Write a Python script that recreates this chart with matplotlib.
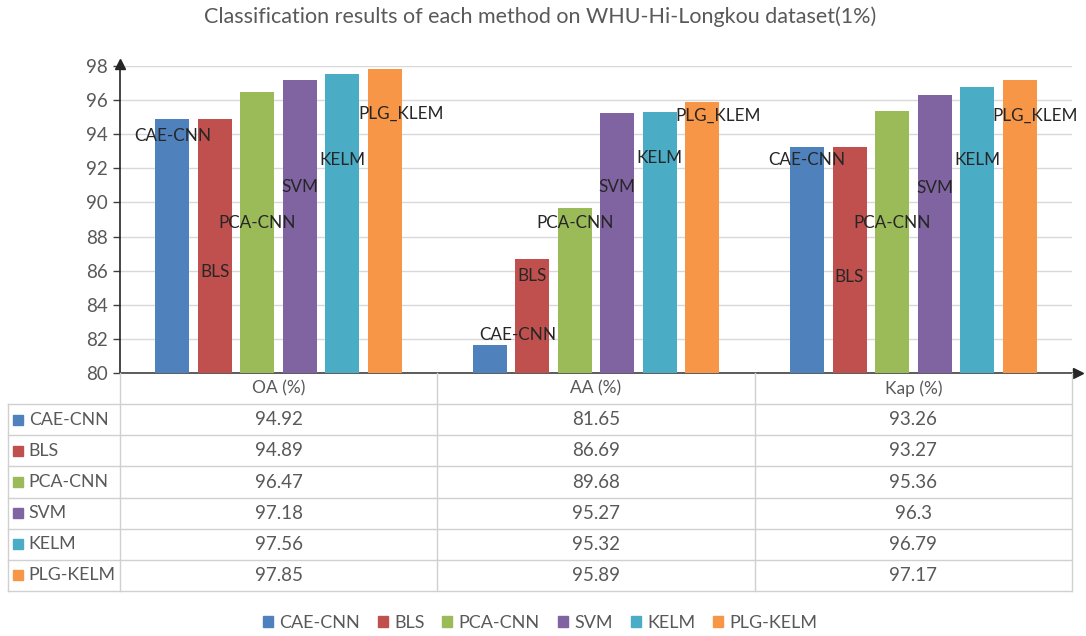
import matplotlib
matplotlib.use("Agg")
from matplotlib import pyplot as plt

plt.rcParams['font.family'] = ['Lato', 'DejaVu Sans']

categories = ["OA (%)", "AA (%)", "Kap (%)"]
methods = ["CAE-CNN", "BLS", "PCA-CNN", "SVM", "KELM", "PLG-KELM"]
bar_labels = ["CAE-CNN", "BLS", "PCA-CNN", "SVM", "KELM", "PLG_KLEM"]
cae_cnn = [94.92, 81.65, 93.26]
bls = [94.89, 86.69, 93.27]
pca_cnn = [96.47, 89.68, 95.36]
svm = [97.18, 95.27, 96.3]
kelm = [97.56, 95.32, 96.79]
plg_kelm = [97.85, 95.89, 97.17]
table_text = [["94.92", "81.65", "93.26"],
              ["94.89", "86.69", "93.27"],
              ["96.47", "89.68", "95.36"],
              ["97.18", "95.27", "96.3"],
              ["97.56", "95.32", "96.79"],
              ["97.85", "95.89", "97.17"]]
series = [cae_cnn, bls, pca_cnn, svm, kelm, plg_kelm]
colors = ['#4F81BD', '#C0504D', '#9BBB59', '#8064A2', '#4BACC6', '#F79646']

# where excel dropped the series-name labels (data units)
label_y = [[93.9, 82.2, 92.5],
           [85.9, 85.7, 85.6],
           [88.8, 88.8, 88.8],
           [90.9, 90.9, 90.85],
           [92.5, 92.6, 92.5],
           [95.2, 95.1, 95.1]]
label_dx = [[0, 0.09, 0], [0] * 3, [0] * 3, [0] * 3, [0] * 3, [0.05] * 3]

W, H = 1086, 636
fig = plt.figure(figsize=(W / 100, H / 100), dpi=100)

x0, x1 = 120, 1072
y_top, y_bot = 66, 373
ax = fig.add_axes([x0 / W, 1 - y_bot / H, (x1 - x0) / W, (y_bot - y_top) / H])

pitch = 0.134
width = 0.107
for i, vals in enumerate(series):
    xs = [c + (i - 2.5) * pitch for c in range(len(categories))]
    ax.bar(xs, [v - 80 for v in vals], width, bottom=80, color=colors[i],
           zorder=3)
    for j, x in enumerate(xs):
        ax.text(x + label_dx[i][j], label_y[i][j], bar_labels[i],
                ha='center', va='center', fontsize=12.3, color='#262626',
                zorder=4)

ax.set_xlim(-0.5, 2.5)
ax.set_ylim(80, 98)
ax.set_yticks(range(80, 99, 2))
ax.set_xticks([])
ax.tick_params(axis='y', labelsize=13.5, color='#404040', labelcolor='#595959',
               length=5, width=1, direction='out', pad=4)
ax.grid(axis='y', color='#D9D9D9', linewidth=1, zorder=0)
ax.spines['top'].set_visible(False)
ax.spines['right'].set_visible(False)
ax.spines['left'].set_color('#262626')
ax.spines['bottom'].set_color('#404040')
ax.spines['left'].set_linewidth(1.2)
ax.spines['bottom'].set_linewidth(1.2)
# arrow heads on both axes
ax.plot(0, 1.005, marker='^', color='#262626', markersize=7,
        transform=ax.transAxes, clip_on=False, zorder=5)
ax.plot(1.006, 0, marker='>', color='#262626', markersize=7,
        transform=ax.transAxes, clip_on=False, zorder=5)

fig.text(540 / W, 1 - 17 / H,
         "Classification results of each method on WHU-Hi-Longkou dataset(1%)",
         ha='center', va='center', fontsize=15.5, color='#595959')

# data table below the chart
t_left, t_bot = 8, 591
lab_w = (x0 - t_left) / ((x1 - x0) / 3)
tax = fig.add_axes([t_left / W, 1 - t_bot / H, (x1 - t_left) / W,
                    (t_bot - y_bot) / H])
tax.set_xlim(-0.5 - lab_w, 2.5)
n_rows = len(methods) + 1
tax.set_ylim(n_rows, 0)
tax.axis('off')
grid_c = '#D0D0D0'
for r in range(1, n_rows + 1):
    tax.plot([-0.5 - lab_w, 2.5], [r, r], color=grid_c, lw=1, clip_on=False)
for b in [-0.5, 0.5, 1.5, 2.5]:
    tax.plot([b, b], [0, n_rows], color=grid_c, lw=1, clip_on=False)
tax.plot([-0.5 - lab_w] * 2, [1, n_rows], color=grid_c, lw=1, clip_on=False)

for j, cat in enumerate(categories):
    tax.text(j, 0.5, cat, ha='center', va='center', fontsize=12.5,
             color='#595959')
for i, m in enumerate(methods):
    y = i + 1.5
    tax.plot(-0.5 - lab_w + 0.03, y, marker='s', markersize=7,
             color=colors[i], clip_on=False)
    tax.text(-0.5 - lab_w + 0.065, y, m, ha='left', va='center',
             fontsize=12.8, color='#595959')
    for j in range(len(categories)):
        tax.text(j, y, table_text[i][j], ha='center', va='center',
                 fontsize=13.5, color='#595959')

# legend
handles = [plt.Rectangle((0, 0), 1, 1, color=c) for c in colors]
fig.legend(handles, methods, loc='center', bbox_to_anchor=(540 / W, 1 - 623 / H),
           ncol=6, frameon=False, fontsize=13, handlelength=0.55,
           handleheight=0.55, handletextpad=0.35, columnspacing=1.0,
           labelcolor='#595959')

plt.savefig("out.png", dpi=100)
